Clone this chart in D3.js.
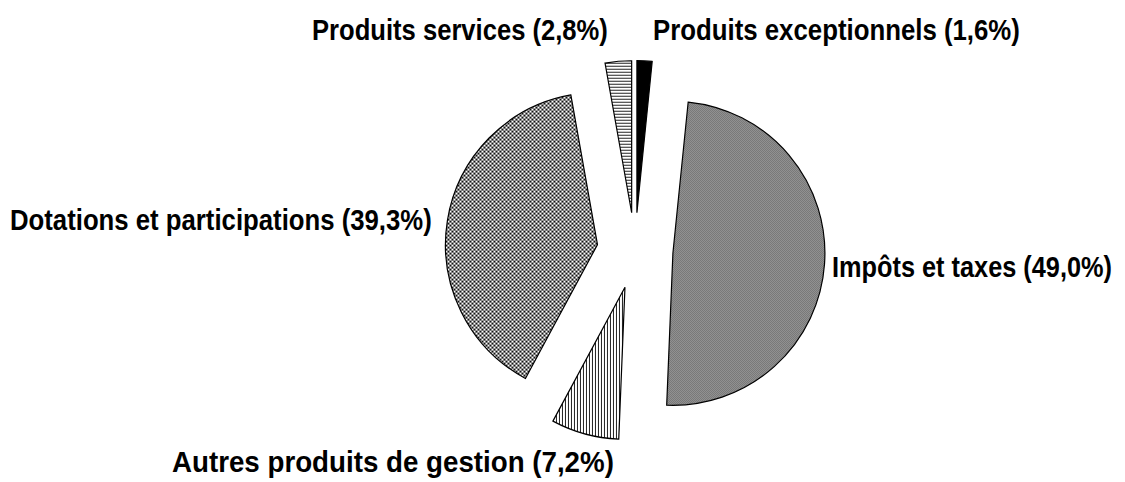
<!DOCTYPE html>
<html>
<head>
<meta charset="utf-8">
<script src="https://cdn.jsdelivr.net/npm/d3@7"></script>
<style>
  html, body { margin: 0; padding: 0; background: #fff; }
  svg { display: block; }
  .lbl { font-family: "Liberation Sans Narrow", "Arial Narrow", "Liberation Sans", Arial, sans-serif; font-weight: bold; font-size: 29px; fill: #000; }
</style>
</head>
<body>
<svg id="chart" width="1125" height="482"></svg>
<script>
// ---- data ----
const categories = ["Produits exceptionnels", "Impôts et taxes", "Autres produits de gestion", "Dotations et participations", "Produits services"];
const values = [1.6, 49.0, 7.2, 39.3, 2.8];
const patternIds = ["solidBlack", "grayDots", "vLines", "checker", "hLines"];

// ---- layout (positions kept separate from data) ----
const W = 1125, H = 482;
const cx = 635, cy = 250.6, R = 152, explode = 38;
const labelLayout = [
  { x: 653, y: 40, w: 367 },
  { x: 832, y: 277, w: 280 },
  { x: 172, y: 472, w: 442 },
  { x: 10,  y: 230, w: 422 },
  { x: 312, y: 40, w: 296 }
];

const svg = d3.select("#chart");
const defs = svg.append("defs");

// patterns
const pGray = defs.append("pattern").attr("id", "grayDots").attr("patternUnits", "userSpaceOnUse")
  .attr("width", 2).attr("height", 2);
pGray.append("rect").attr("width", 2).attr("height", 2).attr("fill", "#a8a8a8");
pGray.append("rect").attr("width", 1).attr("height", 1).attr("fill", "#626262");
pGray.append("rect").attr("x", 1).attr("y", 1).attr("width", 1).attr("height", 1).attr("fill", "#626262");

const pChk = defs.append("pattern").attr("id", "checker").attr("patternUnits", "userSpaceOnUse")
  .attr("width", 4).attr("height", 4);
pChk.append("rect").attr("width", 4).attr("height", 4).attr("fill", "#fff");
pChk.append("rect").attr("x", 0).attr("y", 0).attr("width", 2).attr("height", 2).attr("fill", "#111");
pChk.append("rect").attr("x", 2).attr("y", 2).attr("width", 2).attr("height", 2).attr("fill", "#111");

const pV = defs.append("pattern").attr("id", "vLines").attr("patternUnits", "userSpaceOnUse")
  .attr("width", 3).attr("height", 3);
pV.append("rect").attr("width", 3).attr("height", 3).attr("fill", "#fff");
pV.append("rect").attr("x", 0).attr("width", 1).attr("height", 3).attr("fill", "#222");

const pH = defs.append("pattern").attr("id", "hLines").attr("patternUnits", "userSpaceOnUse")
  .attr("width", 3).attr("height", 3);
pH.append("rect").attr("width", 3).attr("height", 3).attr("fill", "#fff");
pH.append("rect").attr("y", 0).attr("width", 3).attr("height", 1).attr("fill", "#222");

const pie = d3.pie().sort(null).value(d => d.v).startAngle(0).endAngle(2 * Math.PI);
const arc = d3.arc().innerRadius(0).outerRadius(R);

const rows = categories.map((c, i) => ({ c, v: values[i], pat: patternIds[i], i }));
const arcs = pie(rows);

const g = svg.append("g").attr("transform", `translate(${cx},${cy})`);
g.selectAll("path.slice").data(arcs).join("path")
  .attr("class", "slice")
  .attr("transform", d => {
    const a = (d.startAngle + d.endAngle) / 2;
    return `translate(${explode * Math.sin(a)},${-explode * Math.cos(a)})`;
  })
  .attr("d", arc)
  .attr("fill", d => d.data.pat === "solidBlack" ? "#000" : `url(#${d.data.pat})`)
  .attr("stroke", "#000")
  .attr("stroke-width", 1.2)
  .attr("stroke-linejoin", "miter");

const fmt = v => v.toFixed(1).replace(".", ",");
svg.selectAll("text.lbl").data(rows).join("text")
  .attr("class", "lbl")
  .attr("x", 0)
  .attr("y", 0)
  .text(d => `${d.c} (${fmt(d.v)}%)`)
  .each(function(d) {
    const L = labelLayout[d.i];
    const nat = this.getComputedTextLength();
    const sx = L.w / nat;
    d3.select(this).attr("transform", `translate(${L.x},${L.y}) scale(${sx},1)`);
  });
</script>
</body>
</html>
